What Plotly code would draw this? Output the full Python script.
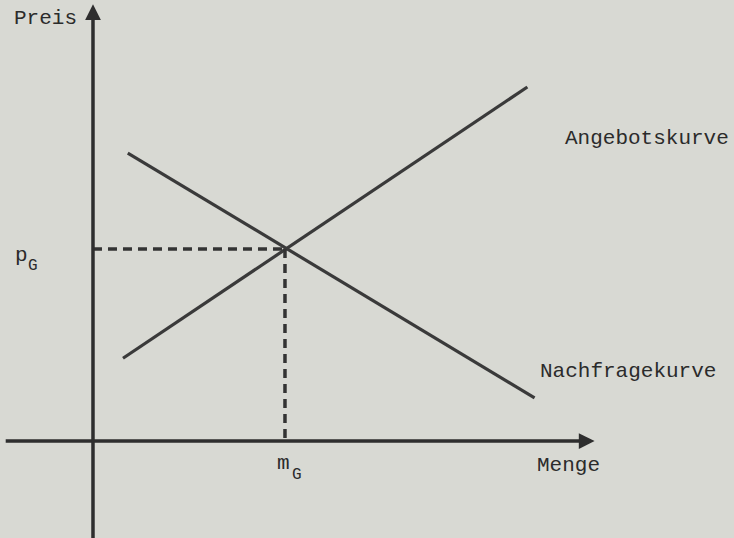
import plotly.graph_objects as go

# Angebot / Nachfrage (Menge, Preis)
angebot_menge = [1.25, 18.1]
angebot_preis = [3.45, 14.75]
nachfrage_menge = [1.45, 18.4]
nachfrage_preis = [12.0, 1.8]

# Gleichgewicht
m_g = 8.0
p_g = 8.0

paper = "#d8d9d3"
ink = "#2b2b2b"
font = "Liberation Mono, Courier New, monospace"

fig = go.Figure()

# curves
fig.add_trace(go.Scatter(x=angebot_menge, y=angebot_preis, mode="lines",
                         line=dict(color="#3a3a3a", width=3.2)))
fig.add_trace(go.Scatter(x=nachfrage_menge, y=nachfrage_preis, mode="lines",
                         line=dict(color="#3a3a3a", width=3.2)))

# dashed guides to the equilibrium point
fig.add_trace(go.Scatter(x=[0, m_g], y=[p_g, p_g], mode="lines",
                         line=dict(color="#333333", width=3.5, dash="9px,6px")))
fig.add_trace(go.Scatter(x=[m_g, m_g], y=[p_g, 0], mode="lines",
                         line=dict(color="#333333", width=3.5, dash="9px,6px")))

# axes with arrow heads
fig.add_annotation(x=20.9, y=0, ax=-3.7, ay=0, xref="x", yref="y", axref="x", ayref="y",
                   text="", showarrow=True, arrowhead=2, arrowsize=0.9, arrowwidth=3.5,
                   arrowcolor="#2e2e2e", standoff=0)
fig.add_annotation(x=0, y=18.2, ax=0, ay=-4.1, xref="x", yref="y", axref="x", ayref="y",
                   text="", showarrow=True, arrowhead=2, arrowsize=0.9, arrowwidth=3.5,
                   arrowcolor="#2e2e2e", standoff=0)

# (text, x, y, size)
labels = [
    ("Preis", -2.0, 17.6, 21),
    ("p", -3.0, 7.75, 21),
    ("G", -2.5, 7.3, 16),
    ("m", 7.95, -0.92, 21),
    ("G", 8.5, -1.4, 16),
    ("Menge", 19.8, -1.0, 21),
    ("Angebotskurve", 23.1, 12.6, 21),
    ("Nachfragekurve", 22.3, 2.9, 21),
]
for txt, lx, ly, sz in labels:
    fig.add_annotation(x=lx, y=ly, text=txt, showarrow=False,
                       font=dict(family=font, size=sz, color=ink))

fig.update_layout(
    width=734, height=538,
    margin=dict(l=0, r=0, t=0, b=0),
    paper_bgcolor=paper, plot_bgcolor=paper,
    showlegend=False,
    xaxis=dict(range=[-3.875, 26.71], visible=False, fixedrange=True),
    yaxis=dict(range=[-4.04, 18.375], visible=False, fixedrange=True),
)

fig.write_html("out.html", config={"displayModeBar": False},
               post_script="document.body.style.margin='0';")
